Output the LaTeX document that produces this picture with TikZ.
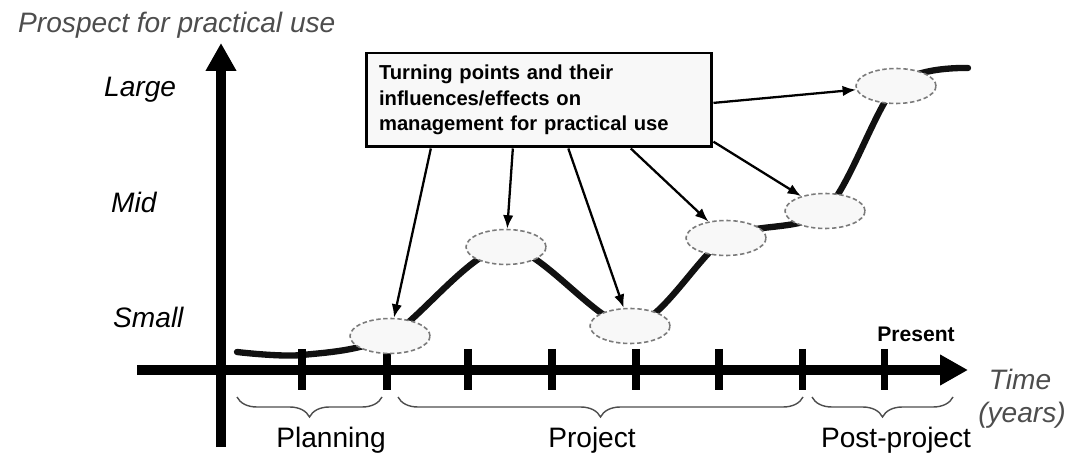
\documentclass[tikz,border=0pt]{standalone}
\usepackage{fontspec}
\setmainfont{Liberation Sans}
\usepackage{tikz}
\usetikzlibrary{arrows.meta,positioning,calc,shapes.geometric,backgrounds,decorations.pathreplacing}
\definecolor{cInk}{HTML}{111111}
\definecolor{cGray}{HTML}{4D4D4D}
\definecolor{cDash}{HTML}{7A7A7A}
\definecolor{cFill}{HTML}{F8F8F8}

\tikzset{
  axisline/.style={line width=5.6pt, -{Triangle[length=5.6mm,width=5.8mm]}},
  tickmark/.style={line width=4pt},
  turnpt/.style={ellipse, draw=cDash, dashed, dash pattern=on 2.5pt off 1.5pt, line width=0.9pt,
    fill=cFill, minimum width=1.6cm, minimum height=0.7cm, inner sep=0pt},
  effect/.style={->, line width=1.3pt},
  lvl/.style={font=\fontsize{16}{19}\selectfont\itshape, anchor=base west},
  phase/.style={font=\fontsize{16}{19}\selectfont, anchor=base},
  span/.style={decorate, decoration={brace,amplitude=0.4cm,mirror}, draw=cGray, line width=0.8pt},
}

\begin{document}
\begin{tikzpicture}[x=0.02cm, y=-0.02cm, >={Latex[length=2.7mm,width=2.1mm]}]
    \useasboundingbox (0,0) rectangle (1074,455);
    \node[lvl, text=cGray] (ttl) at (12,33) {Prospect for practical use};
    \node[lvl] (lvlL) at (98,97)  {Large};
    \node[lvl] (lvlM) at (105,213) {Mid};
    \node[lvl] (lvlS) at (107,328) {Small};
    \draw[axisline] (221,447) -- (221,43);
    \draw[axisline] (137,370) -- (968,370);
    \foreach \x in {302,387,468,552,636,719,802,884} \draw[tickmark] (\x,349) -- (\x,390);
    \node[font=\fontsize{12}{14}\selectfont\bfseries, anchor=base] (present) at (916,342) {Present};
    \node[phase, text=cGray, font=\fontsize{16}{19}\selectfont\itshape] (time)  at (1020,390) {Time};
    \node[phase, text=cGray, font=\fontsize{16}{19}\selectfont\itshape] (years) at (1022,422) {(years)};
    \node[turnpt] (e1) at (390,336) {};
    \node[turnpt] (e2) at (506,247) {};
    \node[turnpt] (e3) at (630,326) {};
    \node[turnpt] (e4) at (726,238) {};
    \node[turnpt] (e5) at (825,211) {};
    \node[turnpt] (e6) at (896,86)  {};
    \begin{scope}[on background layer]
      \draw[line width=3.6pt, cInk, line cap=round]
        plot[smooth] coordinates {(237,352) (302,355) (e1.center) (e2.center) (e3.center)
          (e4.center) (e5.center) (e6.center) (968,68)};
    \end{scope}
    \node[draw, line width=1.7pt, fill=cFill, align=left, text width=6.4cm, inner xsep=0.26cm,
      minimum height=1.88cm, font=\fontsize{11.5}{14.5}\selectfont\bfseries] (box) at (539,100)
      {Turning points and their\\ influences/effects on\\ management for practical use};
    \draw[effect] ($(box.south west)!0.19!(box.south east)$)  -- (e1);
    \draw[effect] ($(box.south west)!0.425!(box.south east)$) -- (e2);
    \draw[effect] ($(box.south west)!0.584!(box.south east)$) -- (e3);
    \draw[effect] ($(box.south west)!0.763!(box.south east)$) -- (e4);
    \draw[effect] ($(box.north east)!0.93!(box.south east)$)  -- (e5);
    \draw[effect] ($(box.north east)!0.53!(box.south east)$)  -- (e6);
    \draw[span] (237,397) -- (382,397);
    \draw[span] (398,397) -- (803,397);
    \draw[span] (812,397) -- (953,397);
    \node[phase] (plan) at (331,447) {Planning};
    \node[phase] (proj) at (592,447) {Project};
    \node[phase] (post) at (896,447) {Post-project};
  \end{tikzpicture}
\end{document}
